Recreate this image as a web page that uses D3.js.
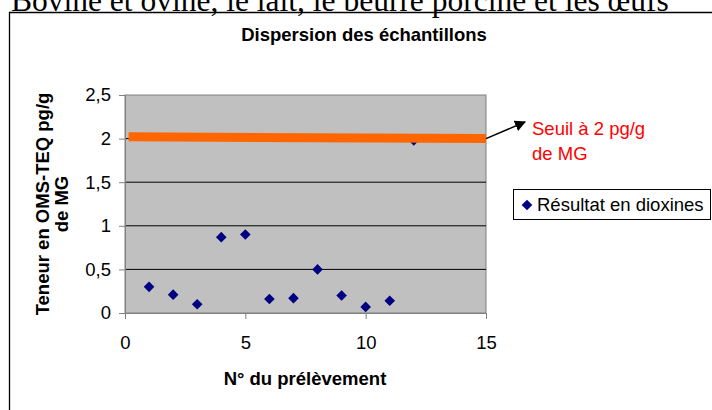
<!DOCTYPE html>
<html>
  <head>
    <script src="https://cdnjs.cloudflare.com/ajax/libs/d3/7.8.5/d3.min.js"></script>
    <style>
      body {
        margin: 0;
        background: #ffffff;
        font-family: "Liberation Sans", Arial, sans-serif;
      }
      .grid line {
        stroke: #000000;
        stroke-width: 1px;
      }
      .axis path,
      .axis line {
        stroke: #808080;
      }
      .axis text {
        font-size: 18.5px;
        fill: #000;
        font-family: "Liberation Sans", Arial, sans-serif;
      }
    </style>
  </head>
  <body>
    <svg id="chart" width="712" height="410"></svg>
    <script>
      const svg = d3.select("#chart");

      // Data
      const sampleNo = [1, 2, 3, 4, 5, 6, 7, 8, 9, 10, 11, 12];
      const dioxines = [0.3, 0.21, 0.1, 0.87, 0.9, 0.16, 0.17, 0.5, 0.2, 0.07, 0.14, 1.98];
      const seuilX = [0.15, 15];
      const seuilY = [2.02, 2.0];
      const xTicks = [0, 5, 10, 15];
      const yTicks = [0, 0.5, 1, 1.5, 2, 2.5];

      const plot = { left: 125, right: 486, top: 95, bottom: 313 };
      const x = d3.scaleLinear().domain([0, 15]).range([plot.left, plot.right]);
      const y = d3.scaleLinear().domain([0, 2.5]).range([plot.bottom, plot.top]);
      const fmt = (d) => String(d).replace(".", ",");

      // Heading of the page (cut at the top)
      svg
        .append("text")
        .attr("x", 11)
        .attr("y", 11)
        .attr("font-family", "'Liberation Serif', 'Times New Roman', serif")
        .attr("font-size", 31.5)
        .text("Bovine et ovine, le lait, le beurre porcine et les œufs");

      // Chart frame
      svg
        .append("path")
        .attr("d", "M9.5,410 V12.5 H712")
        .attr("fill", "none")
        .attr("stroke", "#000")
        .attr("stroke-width", 1.3);

      svg
        .append("text")
        .attr("x", 364)
        .attr("y", 41)
        .attr("text-anchor", "middle")
        .attr("font-weight", "bold")
        .attr("font-size", 18.5)
        .text("Dispersion des échantillons");

      // Plot area
      svg
        .append("rect")
        .attr("x", plot.left)
        .attr("y", plot.top)
        .attr("width", plot.right - plot.left)
        .attr("height", plot.bottom - plot.top)
        .attr("fill", "#c0c0c0")
        .attr("stroke", "#808080")
        .attr("stroke-width", 1);

      svg
        .append("g")
        .attr("class", "grid")
        .selectAll("line")
        .data(yTicks.filter((d) => d > 0 && d < 2.5))
        .enter()
        .append("line")
        .attr("x1", plot.left)
        .attr("x2", plot.right)
        .attr("y1", (d) => y(d))
        .attr("y2", (d) => y(d));

      // Axes
      svg
        .append("g")
        .attr("class", "axis")
        .attr("transform", `translate(0,${plot.bottom})`)
        .call(d3.axisBottom(x).tickValues(xTicks).tickSize(6).tickPadding(17).tickFormat(fmt));

      svg
        .append("g")
        .attr("class", "axis")
        .attr("transform", `translate(${plot.left},0)`)
        .call(d3.axisLeft(y).tickValues(yTicks).tickSize(6).tickPadding(8).tickFormat(fmt));

      // Point 12 sits under the threshold band
      const diamond = d3.symbol().type(d3.symbolDiamond2).size(72);
      const pts = sampleNo.map((n, i) => ({ n, v: dioxines[i] }));

      svg
        .append("g")
        .selectAll("path")
        .data(pts)
        .enter()
        .append("path")
        .attr("d", diamond)
        .attr("fill", "#000080")
        .attr("transform", (d) => `translate(${x(d.n)},${y(d.v)})`);

      // Threshold band
      svg
        .append("line")
        .attr("x1", x(seuilX[0]))
        .attr("y1", y(seuilY[0]))
        .attr("x2", x(seuilX[1]))
        .attr("y2", y(seuilY[1]))
        .attr("stroke", "#ff6600")
        .attr("stroke-width", 9);

      // Arrow to the label
      svg
        .append("defs")
        .append("marker")
        .attr("id", "head")
        .attr("viewBox", "0 0 10 10")
        .attr("refX", 9)
        .attr("refY", 5)
        .attr("markerWidth", 11)
        .attr("markerHeight", 11)
        .attr("markerUnits", "userSpaceOnUse")
        .attr("orient", "auto")
        .append("path")
        .attr("d", "M0,0 L10,5 L0,10 Z")
        .attr("fill", "#000");

      svg
        .append("line")
        .attr("x1", x(seuilX[1]))
        .attr("y1", y(seuilY[1]))
        .attr("x2", 525)
        .attr("y2", 122)
        .attr("stroke", "#000")
        .attr("stroke-width", 1.5)
        .attr("marker-end", "url(#head)");

      const label = svg
        .append("text")
        .attr("font-size", 18.5)
        .attr("fill", "#ff0000");
      label.append("tspan").attr("x", 532).attr("y", 135).text("Seuil à 2 pg/g");
      label.append("tspan").attr("x", 532).attr("y", 160).text("de MG");

      // Axis titles
      svg
        .append("text")
        .attr("x", 305)
        .attr("y", 385)
        .attr("text-anchor", "middle")
        .attr("font-weight", "bold")
        .attr("font-size", 18.5)
        .text("N° du prélèvement");

      const yTitle = svg
        .append("text")
        .attr("transform", `translate(0,${(plot.top + plot.bottom) / 2}) rotate(-90)`)
        .attr("text-anchor", "middle")
        .attr("font-weight", "bold")
        .attr("font-size", 18.5);
      yTitle.append("tspan").attr("x", 0).attr("y", 49).text("Teneur en OMS-TEQ pg/g");
      yTitle.append("tspan").attr("x", 0).attr("y", 68).text("de MG");

      // Legend
      const legend = svg.append("g").attr("transform", "translate(513,189)");
      legend
        .append("rect")
        .attr("x", 0.5)
        .attr("y", 0.5)
        .attr("width", 197)
        .attr("height", 30)
        .attr("fill", "#fff")
        .attr("stroke", "#000");
      legend
        .append("path")
        .attr("d", diamond)
        .attr("fill", "#000080")
        .attr("transform", "translate(14,16)");
      legend
        .append("text")
        .attr("x", 24)
        .attr("y", 22)
        .attr("font-size", 18.5)
        .text("Résultat en dioxines");
    </script>
  </body>
</html>
